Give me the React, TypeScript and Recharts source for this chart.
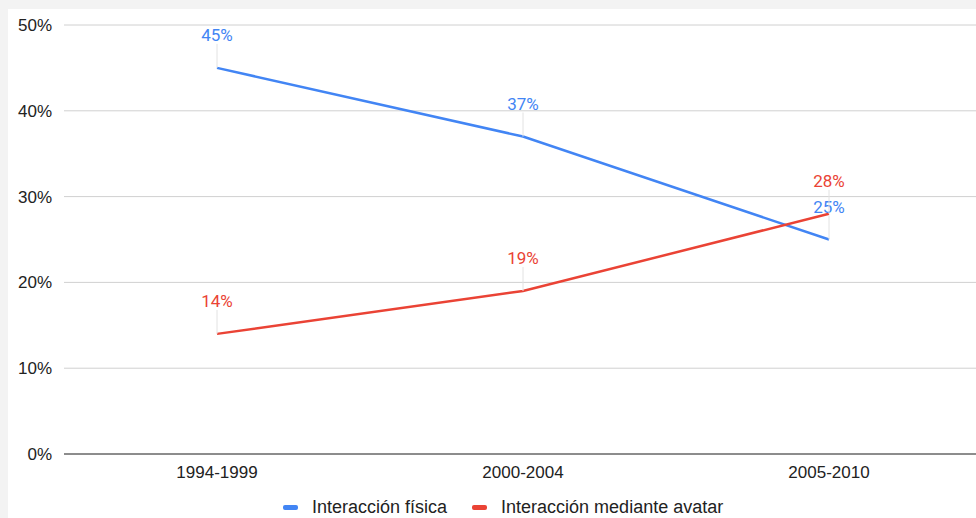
import { LineChart, Line, XAxis, YAxis, CartesianGrid, Legend, LabelList } from 'recharts';

const periods = ['1994-1999', '2000-2004', '2005-2010'];
const fisica = [45, 37, 25];
const avatar = [14, 19, 28];
const yTicks = [0, 10, 20, 30, 40, 50];

const BLUE = '#4285F4';
const RED = '#EA4335';
const AXIS_FONT = 'Arial, "Liberation Sans", sans-serif';

const data = periods.map((p, i) => ({ period: p, fisica: fisica[i], avatar: avatar[i] }));

const series = [
  { key: 'fisica', name: 'Interacción física', color: BLUE },
  { key: 'avatar', name: 'Interacción mediante avatar', color: RED },
];

function makeLabel(color: string) {
  return (props: any) => {
    const { x, y, value } = props;
    return (
      <g>
        <line x1={x} y1={y} x2={x} y2={y - 24} stroke="#e2e2e2" strokeWidth={1} />
        <text
          x={x}
          y={y - 27}
          textAnchor="middle"
          fill={color}
          fontSize={17}
          fontFamily="Roboto, sans-serif"
        >
          {value}%
        </text>
      </g>
    );
  };
}

function LegendContent() {
  return (
    <div
      style={{
        display: 'flex',
        justifyContent: 'flex-start',
        paddingLeft: 283,
        paddingTop: 13,
        fontFamily: AXIS_FONT,
        fontSize: 18,
        lineHeight: '20px',
        color: '#222',
      }}
    >
      {series.map((s) => (
        <div key={s.key} style={{ display: 'flex', alignItems: 'center', marginRight: 25 }}>
          <span
            style={{
              display: 'inline-block',
              width: 15,
              height: 5,
              borderRadius: 2,
              background: s.color,
              marginRight: 14,
            }}
          />
          <span>{s.name}</span>
        </div>
      ))}
    </div>
  );
}

export default function App() {
  return (
    <div
      style={{
        position: 'fixed',
        left: 0,
        top: 0,
        width: 976,
        height: 518,
        background: '#f3f3f3',
        overflow: 'hidden',
      }}
    >
      <div style={{ position: 'absolute', left: 8, top: 9, right: 0, bottom: 0, background: '#fff' }} />
      <div style={{ position: 'absolute', left: 0, top: 0 }}>
        <LineChart width={1000} height={518} data={data} margin={{ top: 25, right: 18, left: 0, bottom: 0 }}>
          <CartesianGrid vertical={false} stroke="#d0d0d0" />
          <XAxis
            dataKey="period"
            height={30}
            padding={{ left: 153, right: 153 }}
            tickLine={false}
            axisLine={{ stroke: '#333' }}
            tickMargin={6}
            tick={{ fill: '#222', fontSize: 17, fontFamily: AXIS_FONT }}
          />
          <YAxis
            width={64}
            domain={[0, 50]}
            ticks={yTicks}
            axisLine={false}
            tickLine={false}
            tickMargin={6}
            tickFormatter={(v: number) => `${v}%`}
            tick={{ fill: '#222', fontSize: 17, fontFamily: AXIS_FONT }}
          />
          <Legend verticalAlign="bottom" height={34} content={<LegendContent />} />
          {series.map((s) => (
            <Line
              key={s.key}
              dataKey={s.key}
              name={s.name}
              stroke={s.color}
              strokeWidth={2.5}
              dot={false}
              activeDot={false}
              isAnimationActive={false}
            >
              <LabelList dataKey={s.key} content={makeLabel(s.color)} />
            </Line>
          ))}
        </LineChart>
      </div>
    </div>
  );
}
